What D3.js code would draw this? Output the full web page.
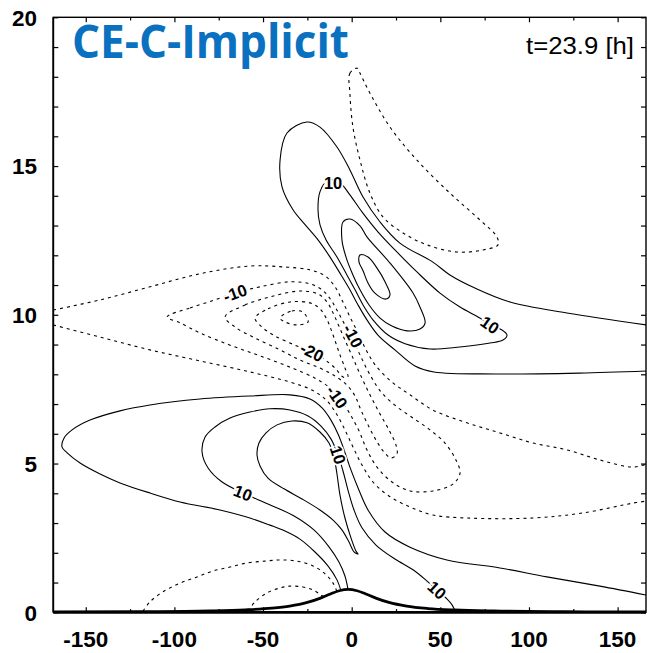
<!DOCTYPE html>
<html><head><meta charset="utf-8">
<script src="https://cdn.jsdelivr.net/npm/d3@7"></script>
<style>body{margin:0;background:#fff}svg{display:block}</style>
</head><body>
<svg id="chart" width="647" height="653"></svg>
<script>
// ---------- data ----------
const titleText = "CE-C-Implicit";
const timeText = "t=23.9 [h]";
const xTickValues = [-150, -100, -50, 0, 50, 100, 150];
const yTickValues = [0, 5, 10, 15, 20];

const mountainX = [-168,-120,-80,-60,-45,-35,-25,-18,-12,-7,-2,3,8,14,21,31,43,58,80,120,166];
const mountainH = [0.011,0.021,0.047,0.082,0.137,0.207,0.332,0.47,0.616,0.725,0.77,0.725,0.616,0.47,0.332,0.207,0.127,0.077,0.043,0.02,0.011];

// upper positive lobe
const up5 = [[166.0,8.11],[128.3,8.04],[81.4,8.01],[46.4,8.08],[35.7,8.28],[24.4,8.82],[14.8,9.32],[8.6,9.83],[3.6,10.33],[-1.0,10.84],[-6.0,11.34],[-12.2,11.94],[-19.0,12.52],[-26.3,13.03],[-33.1,13.53],[-39.3,14.30],[-40.4,15.20],[-36.5,16.11],[-25.2,16.48],[-17.9,16.31],[-8.3,15.64],[-1.0,14.87],[6.4,13.96],[16.0,13.12],[27.2,12.41],[45.8,11.77],[55.4,11.34],[69.5,10.90],[89.3,10.43],[121.4,10.06],[166.0,9.66]];
const up10 = [[-13.4,14.53],[-17.9,14.13],[-19.0,13.53],[-17.9,13.03],[-14.5,12.52],[-8.3,11.94],[-2.7,11.34],[1.9,10.84],[6.4,10.33],[12.0,9.83],[20.5,9.32],[30.1,9.03],[44.2,8.85],[61.1,8.92],[78.0,9.05],[85.3,9.15],[87.6,9.32],[84.8,9.49],[78.0,9.66],[72.3,9.89],[61.1,10.26],[49.8,10.73],[36.8,11.44],[24.4,12.18],[14.8,12.79],[5.8,13.46],[-1.0,14.03],[-6.6,14.43]];
const up15 = [[-4.9,13.12],[-1.0,13.22],[4.7,12.99],[8.6,12.62],[21.6,11.74],[34.6,10.73],[38.5,10.26],[41.4,9.73],[38.5,9.52],[31.2,9.46],[22.7,9.62],[16.0,9.89],[9.8,10.33],[4.7,10.84],[0.7,11.34],[-3.2,11.94],[-5.5,12.52]];
const up20 = [[4.7,12.01],[9.2,11.94],[14.3,11.57],[18.8,11.11],[21.6,10.67],[19.4,10.53],[13.1,10.73],[9.2,11.07],[6.4,11.48],[4.1,11.78]];

// upper negative cell
const upNeg5 = [[3.2,18.29],[-1.0,18.12],[-1.0,17.45],[0.7,16.31],[4.7,15.20],[10.3,14.09],[17.6,13.29],[29.0,12.75],[42.5,12.35],[59.4,12.11],[74.0,12.18],[82.5,12.35],[81.9,12.62],[72.3,13.19],[55.4,14.09],[36.8,15.20],[21.6,16.31],[10.3,17.45],[4.7,18.12]];

// middle negative lobe
const neg5Top = [[-168.3,10.16],[-141.9,10.50],[-113.8,10.94],[-85.6,11.38],[-57.4,11.64],[-38.7,11.61],[-23.5,11.51],[-15.0,11.31],[-9.4,10.94],[-5.5,10.50],[-1.0,9.93],[3.6,9.39],[8.1,8.82],[13.7,8.28],[22.7,7.74],[32.9,7.31],[45.8,6.80],[65.0,6.37],[83.6,6.03],[102.3,5.69],[121.4,5.46],[140.0,5.12],[158.6,4.88],[166.5,4.99]];
const neg5Bottom = [[-168.3,9.66],[-141.9,9.25],[-113.8,8.82],[-85.6,8.45],[-57.4,8.08],[-34.8,7.74],[-22.4,7.47],[-14.5,7.14],[-8.9,6.70],[-3.8,6.13],[0.7,5.56],[5.8,4.95],[12.0,4.38],[21.0,3.91],[32.9,3.54],[45.8,3.27],[65.0,3.17],[102.3,3.17],[130.4,3.34],[158.6,3.67],[166.5,3.74]];
const neg10 = [[-104.1,9.93],[-91.2,10.23],[-77.1,10.50],[-65.8,10.73],[-51.7,10.94],[-34.8,11.11],[-23.5,11.04],[-16.7,10.84],[-11.7,10.50],[-7.7,10.09],[-3.8,9.66],[0.2,9.22],[4.7,8.65],[9.8,8.04],[16.5,7.41],[25.0,6.93],[34.6,6.53],[44.2,6.13],[52.6,5.69],[58.8,5.12],[61.1,4.68],[57.1,4.31],[45.8,4.08],[32.9,4.08],[22.7,4.38],[14.3,4.88],[8.6,5.46],[4.1,6.10],[-1.0,6.67],[-6.0,7.14],[-12.2,7.54],[-20.7,7.87],[-34.8,8.24],[-51.7,8.62],[-68.6,8.98],[-85.6,9.39],[-96.8,9.73]];
const neg15 = [[-71.4,9.93],[-60.2,10.33],[-46.1,10.60],[-29.2,10.80],[-19.0,10.70],[-13.9,10.43],[-10.5,10.06],[-7.2,9.62],[-3.8,9.15],[0.2,8.62],[4.7,8.01],[9.8,7.37],[15.4,6.73],[21.0,6.13],[25.0,5.62],[25.5,5.32],[22.2,5.19],[18.2,5.39],[13.7,5.79],[9.2,6.30],[5.2,6.80],[1.9,7.27],[-2.7,7.64],[-9.4,7.94],[-17.9,8.21],[-29.2,8.48],[-40.4,8.82],[-54.5,9.22],[-65.8,9.59]];
const neg20 = [[-54.5,9.89],[-47.2,10.20],[-34.8,10.43],[-23.5,10.40],[-17.9,10.20],[-13.9,9.83],[-10.5,9.32],[-7.2,8.75],[-3.8,8.21],[-2.1,7.91],[-4.9,7.91],[-9.4,8.21],[-15.6,8.51],[-22.4,8.75],[-32.0,8.98],[-43.3,9.29],[-50.6,9.59]];
const neg25 = [[-40.4,9.89],[-33.7,10.13],[-27.5,10.09],[-24.6,9.76],[-30.8,9.66],[-37.6,9.76]];

// lower positive lobe
const low5 = [[-6.0,0.72],[-8.3,1.09],[-13.4,1.56],[-21.3,2.06],[-29.2,2.46],[-37.6,2.73],[-46.1,2.93],[-57.4,3.17],[-74.3,3.44],[-96.8,3.71],[-113.8,4.01],[-130.7,4.35],[-141.9,4.65],[-153.2,5.02],[-160.5,5.36],[-163.4,5.56],[-162.2,5.86],[-157.7,6.13],[-147.6,6.46],[-130.7,6.77],[-113.8,6.97],[-85.6,7.17],[-57.4,7.27],[-34.8,7.31],[-23.5,7.17],[-16.7,6.87],[-11.7,6.46],[-7.7,5.99],[-4.3,5.46],[-1.0,4.88],[3.6,4.18],[9.2,3.44],[18.8,2.70],[32.9,2.19],[53.7,1.76],[83.6,1.49],[110.1,1.19],[140.0,0.88],[166.0,0.58]];
const low10 = [[-2.1,0.78],[-3.8,1.22],[-7.2,1.69],[-12.8,2.20],[-21.3,2.77],[-32.5,3.24],[-47.2,3.64],[-61.3,4.01],[-73.1,4.38],[-81.0,4.85],[-84.4,5.39],[-82.7,5.89],[-77.1,6.23],[-68.6,6.53],[-57.4,6.73],[-46.1,6.84],[-34.8,6.80],[-24.6,6.60],[-17.3,6.26],[-11.7,5.83],[-7.7,5.29],[-4.9,4.75],[-2.1,4.11],[1.3,3.44],[5.8,2.84],[13.7,2.26],[24.4,1.79],[34.6,1.43],[42.5,1.05],[48.1,0.75],[53.7,0.45],[56.6,0.25],[58.3,0.04]];
const low15 = [[-17.9,6.06],[-12.8,5.69],[-10.0,5.22],[-8.3,4.65],[-6.6,3.94],[-3.8,3.17],[-0.4,2.50],[2.4,2.06],[3.6,1.96],[1.3,2.03],[-1.5,2.36],[-5.5,2.77],[-10.5,3.10],[-17.9,3.44],[-28.0,3.81],[-38.2,4.15],[-47.2,4.51],[-51.7,4.92],[-53.4,5.29],[-52.3,5.69],[-48.3,6.03],[-42.1,6.30],[-33.7,6.43],[-25.2,6.37]];

// lower negative cell near the ground
const ground5 = [[-117.7,0.04],[-113.8,0.35],[-106.4,0.69],[-96.8,0.98],[-87.2,1.19],[-78.2,1.39],[-68.6,1.52],[-59.0,1.66],[-48.9,1.72],[-40.4,1.76],[-30.8,1.72],[-21.8,1.56],[-15.0,1.29],[-10.5,0.98],[-8.3,0.69]];
const ground10 = [[-58.5,0.04],[-54.5,0.35],[-47.8,0.65],[-40.4,0.82],[-34.8,0.88],[-27.5,0.85],[-21.8,0.75],[-17.3,0.58],[-15.6,0.51]];

const contourLevels = [5,10,15,20, -5,-5,-5,-10,-15,-20,-25, 5,10,15, -5,-10];
const contourLines  = [up5,up10,up15,up20, upNeg5,neg5Top,neg5Bottom,neg10,neg15,neg20,neg25, low5,low10,low15, ground5,ground10];
const contourClosed = [false,true,true,true, true,false,false,true,true,true,true, false,false,true, false,false];

const labelText = ["10","10","-10","-20","-10","-10","10","10","10"];
const labelX    = [-10.5, 78.0, -65.8, -22.4, 0.7, -8.3, -7.7, -61.3, 48.1];
const labelY    = [14.43, 9.66, 10.73, 8.75, 9.29, 7.24, 5.29, 4.01, 0.75];
const labelRot  = [0, 35, -20, 27, 62, 55, 72, 22, 42];

// ---------- drawing ----------
const svg = d3.select("#chart");
const L = 53.3, R = 646, T = 17.3, B = 612.3;
const x = d3.scaleLinear().domain([-168.3, 166]).range([L, R]);
const y = d3.scaleLinear().domain([0, 20]).range([B, T]);

svg.append("defs").append("clipPath").attr("id","clip")
  .append("rect").attr("x",L).attr("y",T).attr("width",R-L).attr("height",B-T);

const g = svg.append("g").attr("clip-path","url(#clip)");

contourLines.forEach((pts, i) => {
  const line = d3.line().x(d => x(d[0])).y(d => y(d[1]))
    .curve(contourClosed[i] ? d3.curveCatmullRomClosed.alpha(0.5) : d3.curveCatmullRom.alpha(0.5));
  const neg = contourLevels[i] < 0;
  g.append("path").attr("d", line(pts))
    .attr("fill","none").attr("stroke","#000")
    .attr("stroke-width", 1.1)
    .attr("stroke-dasharray", neg ? "3,4" : null);
});

// mountain
const mountain = mountainX.map((v,i) => [v, mountainH[i]]);
g.append("path")
  .attr("d", d3.line().x(d => x(d[0])).y(d => y(d[1])).curve(d3.curveMonotoneX)(mountain))
  .attr("fill","none").attr("stroke","#000").attr("stroke-width",2.8);

// contour labels
labelText.forEach((t, i) => {
  svg.append("text")
    .attr("transform", `translate(${x(labelX[i])},${y(labelY[i])}) rotate(${labelRot[i]})`)
    .attr("text-anchor","middle").attr("dy","0.36em")
    .attr("font-family","Liberation Sans, Arial, sans-serif")
    .attr("font-weight","bold").attr("font-size",16.5)
    .attr("paint-order","stroke").attr("stroke","#fff").attr("stroke-width",3.5)
    .attr("fill","#000").text(t);
});

// frame
svg.append("rect").attr("x",L).attr("y",T).attr("width",R-L).attr("height",B-T)
  .attr("fill","none").attr("stroke","#000").attr("stroke-width",1.4);
svg.append("line").attr("x1",L).attr("x2",R).attr("y1",B).attr("y2",B)
  .attr("stroke","#000").attr("stroke-width",2.8);
svg.append("line").attr("x1",L).attr("x2",L).attr("y1",T).attr("y2",B)
  .attr("stroke","#000").attr("stroke-width",1.8);

// ticks via axes (inward)
const xMinor = d3.range(-150, 151, 25).filter(v => !xTickValues.includes(v));
const yMinor = d3.range(0, 21, 1).filter(v => !yTickValues.includes(v));
function styleAxis(sel){ sel.select(".domain").remove(); sel.selectAll("line").attr("stroke","#000").attr("stroke-width",1.2); }

svg.append("g").attr("transform",`translate(0,${B})`)
  .call(d3.axisTop(x).tickValues(xTickValues).tickSize(5).tickFormat(""))
  .call(styleAxis);
svg.append("g").attr("transform",`translate(0,${B})`)
  .call(d3.axisTop(x).tickValues(xMinor).tickSize(3.2).tickFormat(""))
  .call(styleAxis);
svg.append("g").attr("transform",`translate(0,${T})`)
  .call(d3.axisBottom(x).tickValues(xTickValues).tickSize(5).tickFormat(""))
  .call(styleAxis);
svg.append("g").attr("transform",`translate(0,${T})`)
  .call(d3.axisBottom(x).tickValues(xMinor).tickSize(3.2).tickFormat(""))
  .call(styleAxis);
svg.append("g").attr("transform",`translate(${L},0)`)
  .call(d3.axisRight(y).tickValues(yTickValues.concat(yMinor)).tickSize(5).tickFormat(""))
  .call(styleAxis);
svg.append("g").attr("transform",`translate(${R},0)`)
  .call(d3.axisLeft(y).tickValues(yTickValues.concat(yMinor)).tickSize(5).tickFormat(""))
  .call(styleAxis);

// tick labels
svg.append("g").selectAll("text").data(xTickValues).join("text")
  .attr("x", d => x(d)).attr("y", 647)
  .attr("text-anchor","middle")
  .attr("font-family","Liberation Sans, Arial, sans-serif").attr("font-size",22.5)
  .attr("font-weight","bold")
  .attr("fill","#000").text(d => String(d));
svg.append("g").selectAll("text").data(yTickValues).join("text")
  .attr("x", 37).attr("y", d => y(d) + 8.2)
  .attr("text-anchor","end")
  .attr("font-family","Liberation Sans, Arial, sans-serif").attr("font-size",22.5)
  .attr("font-weight","bold")
  .attr("fill","#000").text(d => String(d));

// titles
svg.append("text").attr("x",72).attr("y",58)
  .attr("font-family","Open Sans, Noto Sans, sans-serif").attr("font-weight","bold")
  .attr("font-size",46).attr("fill","#0a70c0")
  .attr("textLength",277).attr("lengthAdjust","spacingAndGlyphs")
  .text(titleText);
svg.append("text").attr("x",526).attr("y",54)
  .attr("font-family","Liberation Sans, Arial, sans-serif")
  .attr("font-size",24.5).attr("fill","#000")
  .attr("textLength",108).attr("lengthAdjust","spacingAndGlyphs")
  .text(timeText);
</script>
</body></html>
